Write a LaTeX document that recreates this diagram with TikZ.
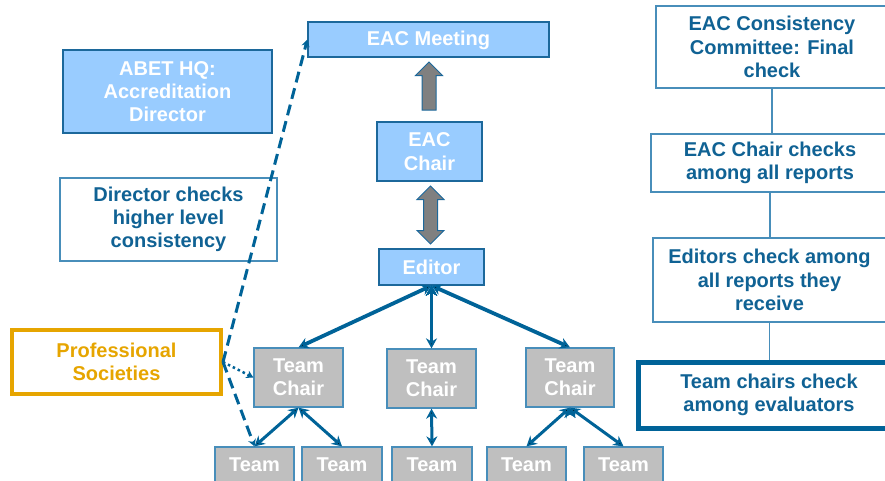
\documentclass[tikz,border=0pt]{standalone}
\usepackage{fontspec}
\setmainfont{Liberation Sans}
\usetikzlibrary{arrows.meta,shapes.arrows,calc}

\definecolor{boxblue}{RGB}{153,204,255}
\definecolor{edgeblue}{RGB}{28,104,155}
\definecolor{lineblue}{RGB}{0,99,152}
\definecolor{textblue}{RGB}{16,98,148}
\definecolor{thinblue}{RGB}{72,142,186}
\definecolor{chairgray}{RGB}{191,191,191}
\definecolor{shaftgray}{RGB}{128,128,128}
\definecolor{gold}{RGB}{230,165,0}

\tikzset{
    big/.style={font=\bfseries\fontsize{20}{23.3}\selectfont, align=center, inner sep=0pt},
    bluebox/.style={big, rectangle, draw=edgeblue, line width=1.3pt, fill=boxblue, text=white},
    graybox/.style={big, rectangle, draw=thinblue, line width=1.3pt, fill=chairgray, text=white},
    note/.style={big, rectangle, draw=thinblue, line width=1.3pt, fill=white, text=textblue},
    link/.style={draw=lineblue, line width=3pt, {Stealth[length=10pt, width=11pt]}-{Stealth[length=10pt, width=11pt]}},
    fatarrow/.style={draw=edgeblue, fill=shaftgray, line width=1pt, inner xsep=0pt, inner ysep=6.5pt, rotate=90}
}

\begin{document}
\begin{tikzpicture}[x=1pt, y=-1pt]
    \clip (0,0) rectangle (885,480);

    % left column
    \node (hq) [bluebox, minimum width=209, minimum height=83] at (167.5,91.5) {ABET HQ:\\Accreditation\\Director};
    \node (director) [note, minimum width=217, minimum height=83] at (168.5,219.5) {Director checks\\higher level\\consistency};
    \node (profsoc) [big, rectangle, draw=gold, line width=4pt, text=gold, minimum width=209, minimum height=64] at (116.5,362) {Professional\\Societies};

    % EAC chain
    \node (meeting) [bluebox, minimum width=241, minimum height=35, text depth=2pt] at (428.5,39.5) {EAC Meeting};
    \node (chair) [bluebox, minimum width=105, minimum height=59] at (429.5,151.5) {EAC\\Chair};
    \node (editor) [bluebox, minimum width=105, minimum height=36] at (431.5,267) {Editor};

    \node (rise) [single arrow, single arrow head extend=6.5pt, minimum height=48pt, fatarrow] at ($(chair.north)!0.5!(meeting.south)$) {};
    \node (swap) [double arrow, double arrow head extend=6.5pt, minimum height=58pt, fatarrow] at ($(editor.north)!0.5!(chair.south)$) {};

    % team chairs and teams
    \node (tchair1) [graybox, minimum width=89, minimum height=59] at (298.5,377.5) {Team\\Chair};
    \node (tchair2) [graybox, minimum width=89, minimum height=59] at (431.5,378.5) {Team\\Chair};
    \node (tchair3) [graybox, minimum width=88, minimum height=59] at (570,377.5) {Team\\Chair};

    \node (team1) [graybox, minimum width=79, minimum height=36] at (254.5,465) {Team};
    \node (team2) [graybox, minimum width=80, minimum height=36] at (342,465) {Team};
    \node (team3) [graybox, minimum width=80, minimum height=36] at (432,465) {Team};
    \node (team4) [graybox, minimum width=79, minimum height=36] at (526.5,465) {Team};
    \node (team5) [graybox, minimum width=79, minimum height=36] at (623.5,465) {Team};

    \path [link, line width=3.8pt] (editor.south) edge (tchair1.north);
    \path [link, line width=2.6pt] (editor.south) edge (tchair2.north);
    \path [link, line width=3.8pt] (editor.south) edge (tchair3.north);
    \path [link] (tchair1.south) edge (team1.north)
                 (tchair1.south) edge (team2.north)
                 (tchair2.south) edge (team3.north)
                 (tchair3.south) edge (team4.north)
                 (tchair3.south) edge (team5.north);

    % professional societies feed in
    \draw [lineblue, line width=3pt, dash pattern=on 11pt off 6pt, -{Stealth[length=7pt, width=8pt]}] (profsoc.east) -- (meeting.west);
    \draw [lineblue, line width=3pt, dash pattern=on 11pt off 6pt, -{Stealth[length=7pt, width=8pt]}] (profsoc.east) -- (team1.north);
    \draw [lineblue, line width=2.5pt, dash pattern=on 2.5pt off 3pt, -{Stealth[length=7pt, width=8pt]}] (profsoc.east) -- (tchair1.west);

    % consistency checks
    \node (finalchk) [note, minimum width=232, minimum height=82] at (772,47) {EAC Consistency\\Committee: Final\\check};
    \node (chairchk) [note, minimum width=238, minimum height=58] at (770,163) {EAC Chair checks\\among all reports};
    \node (editorchk) [note, minimum width=233, minimum height=84] at (769.5,280) {Editors check among\\all reports they\\receive};
    \node (teamchk) [note, draw=lineblue, line width=5pt, minimum width=262, minimum height=66] at (769,395) {Team chairs check\\among evaluators};

    \draw [thinblue, line width=1.3pt] (finalchk.south) -- (finalchk.south |- chairchk.north);
    \draw [thinblue, line width=1.3pt] (chairchk.south) -- (chairchk.south |- editorchk.north);
    \draw [thinblue, line width=1.3pt] (editorchk.south) -- (editorchk.south |- teamchk.north);
\end{tikzpicture}
\end{document}
